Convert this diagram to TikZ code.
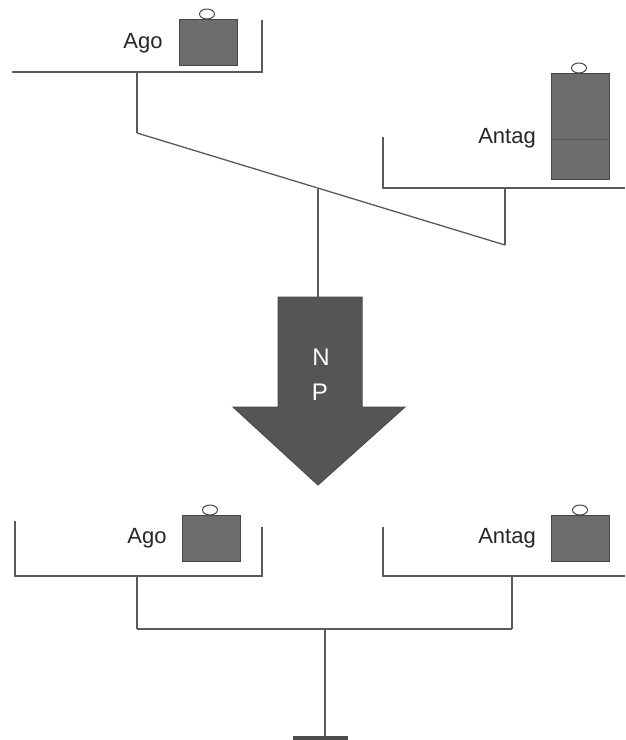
\documentclass[tikz,border=0pt]{standalone}
\usepackage{fontspec}
\setmainfont{Liberation Sans}
\definecolor{linec}{HTML}{5A5A5A}
\definecolor{wfill}{HTML}{6C6C6C}
\definecolor{wdraw}{HTML}{474747}
\definecolor{afill}{HTML}{555555}
\begin{document}
\begin{tikzpicture}[x=1pt,y=-1pt,
  wire/.style={draw=linec,line width=1.3pt},
  weight/.style={draw=wdraw,fill=wfill,line width=1pt,inner sep=0pt,minimum width=58pt},
  handle/.style={draw=wdraw,fill=white,line width=1pt},
  lbl/.style={font=\fontsize{22}{26}\selectfont,text=black!85,inner sep=0pt},
  albl/.style={font=\fontsize{24}{28}\selectfont,text=white,inner sep=0pt}]
\useasboundingbox (0,0) rectangle (625,740);
\fill[white] (0,0) rectangle (625,740);

% ---------- top-left pan ----------
\coordinate (tlL) at (12,72);
\coordinate (tlR) at (262,72);
\coordinate (tlRw) at (262,20);
\coordinate (tlS) at (137,72);
\coordinate (tlB) at (137,133);
\draw[wire] (tlL) -- (tlR) -- (tlRw);
\draw[wire] (tlS) -- (tlB);
\draw[handle] (207,14) ellipse (7.5pt and 5pt);
\node[weight,minimum height=46pt] (w1) at (208,42) {};
\node[lbl] (t1) at (143,43) {Ago};

% ---------- top-right pan ----------
\coordinate (trL) at (383,137);
\coordinate (trLb) at (383,188);
\coordinate (trR) at (625,188);
\coordinate (trS) at (505,188);
\coordinate (trB) at (505,245);
\draw[wire] (trL) -- (trLb) -- (trR);
\draw[wire] (trS) -- (trB);
\draw[handle] (579,68) ellipse (7.5pt and 5pt);
\node[weight,minimum height=106pt] (w2) at (580,126) {};
\draw[wdraw!60!wfill,line width=1pt] (552,139) -- (608,139);
\node[lbl] (t2) at (507,138) {Antag};

% ---------- beam ----------
\coordinate (piv) at (318,188.5);
\draw[wire] (tlB) -- (trB);

% ---------- arrow ----------
\coordinate (atop) at (318,297);
\draw[wire] (piv) -- (atop);
\draw[fill=afill,draw=black!70,line width=1pt]
  (278,297) -- (362,297) -- (362,407) -- (405,407) -- (318,485)
  -- (233,407) -- (278,407) -- cycle;
\node[albl] (n) at (321,357) {N};
\node[albl] (p) at (320,392) {P};

% ---------- bottom-left pan ----------
\coordinate (blLw) at (15,521);
\coordinate (blL) at (15,576);
\coordinate (blR) at (262,576);
\coordinate (blRw) at (262,527);
\coordinate (blS) at (137,576);
\coordinate (blB) at (137,629);
\draw[wire] (blLw) -- (blL) -- (blR) -- (blRw);
\draw[wire] (blS) -- (blB);
\draw[handle] (210,510) ellipse (7.5pt and 5pt);
\node[weight,minimum height=46pt] (w3) at (211,538) {};
\node[lbl] (t3) at (147,538) {Ago};

% ---------- bottom-right pan ----------
\coordinate (brLw) at (383,527);
\coordinate (brL) at (383,576);
\coordinate (brR) at (625,576);
\coordinate (brS) at (512,576);
\coordinate (brB) at (512,629);
\draw[wire] (brLw) -- (brL) -- (brR);
\draw[wire] (brS) -- (brB);
\draw[handle] (580,510) ellipse (7.5pt and 5pt);
\node[weight,minimum height=46pt] (w4) at (580,538) {};
\node[lbl] (t4) at (507,538) {Antag};

% ---------- bottom beam & stem ----------
\coordinate (bm) at (325,629);
\coordinate (bst) at (325,737);
\draw[wire] (blB) -- (brB);
\draw[wire] (bm) -- (bst);
\fill[black!70] (293,736) rectangle (348,740);
\end{tikzpicture}
\end{document}
